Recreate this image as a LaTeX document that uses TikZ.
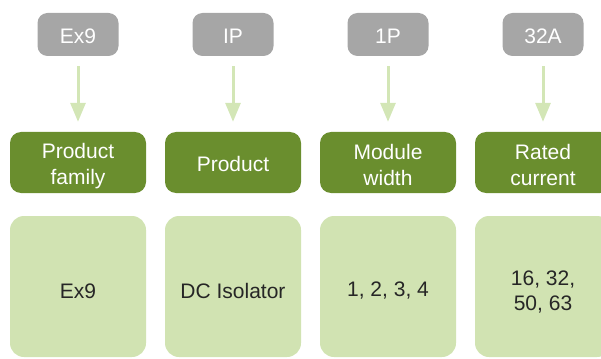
\documentclass[tikz,border=0pt]{standalone}
\usepackage{fontspec}
\setmainfont{Liberation Sans}
\usetikzlibrary{arrows.meta}
\definecolor{tagGray}{HTML}{A6A6A6}
\definecolor{darkGreen}{HTML}{6A8E2E}
\definecolor{lightGreen}{HTML}{D1E3B2}
\definecolor{arrowGreen}{HTML}{D3E6B6}
\definecolor{bodyText}{HTML}{262626}
\tikzset{
  every node/.style={font=\fontsize{21pt}{25.5pt}\selectfont, align=center, inner sep=0pt},
  tagbox/.style={fill=tagGray, rounded corners=10pt, minimum width=81pt, minimum height=43pt},
  headbox/.style={fill=darkGreen, rounded corners=11pt, minimum width=136pt, minimum height=61pt},
  valbox/.style={fill=lightGreen, rounded corners=14pt, minimum width=136pt, minimum height=141pt},
  valtext/.style={text=bodyText},
  flowarrow/.style={draw=arrowGreen, line width=3pt, -{Triangle[length=19pt,width=15pt]}, shorten <=10pt, shorten >=10pt}
}
\begin{document}
\begin{tikzpicture}[x=1pt,y=-1pt]
\useasboundingbox (0,0) rectangle (601,358);
\clip (0,0) rectangle (601,358);
% tags
\node[tagbox] (g1) at (78,34.5) {};
\node[tagbox] (g2) at (233,34.5) {};
\node[tagbox] (g3) at (388,34.5) {};
\node[tagbox] (g4) at (543,34.5) {};
\node[text=white] (s1) at (78,36) {Ex9};
\node[text=white] (s2) at (233,36) {IP};
\node[text=white] (s3) at (388,36) {1P};
\node[text=white] (s4) at (543,36) {32A};
% headers
\node[headbox] (d1) at (78,162.5) {};
\node[headbox] (d2) at (233,162.5) {};
\node[headbox] (d3) at (388,162.5) {};
\node[headbox] (d4) at (543,162.5) {};
\node[text=white] (t1) at (78,166) {Product\\family};
\node[text=white] (t2) at (233,163.5) {Product};
\node[text=white] (t3) at (388,165) {Module\\width};
\node[text=white] (t4) at (543,165) {Rated\\current};
% values
\node[valbox] (l1) at (78,286.5) {};
\node[valbox] (l2) at (233,286.5) {};
\node[valbox] (l3) at (388,286.5) {};
\node[valbox] (l4) at (543,286.5) {};
\node[valtext] (v1) at (78,291) {Ex9};
\node[valtext] (v2) at (233,291) {DC Isolator};
\node[valtext] (v3) at (388,291) {1, 2, 3, 4};
\node[valtext] (v4) at (543,292) {16, 32,\\50, 63};
% arrows
\draw[flowarrow] (g1) -- (d1);
\draw[flowarrow] (g2) -- (d2);
\draw[flowarrow] (g3) -- (d3);
\draw[flowarrow] (g4) -- (d4);
\end{tikzpicture}
\end{document}
